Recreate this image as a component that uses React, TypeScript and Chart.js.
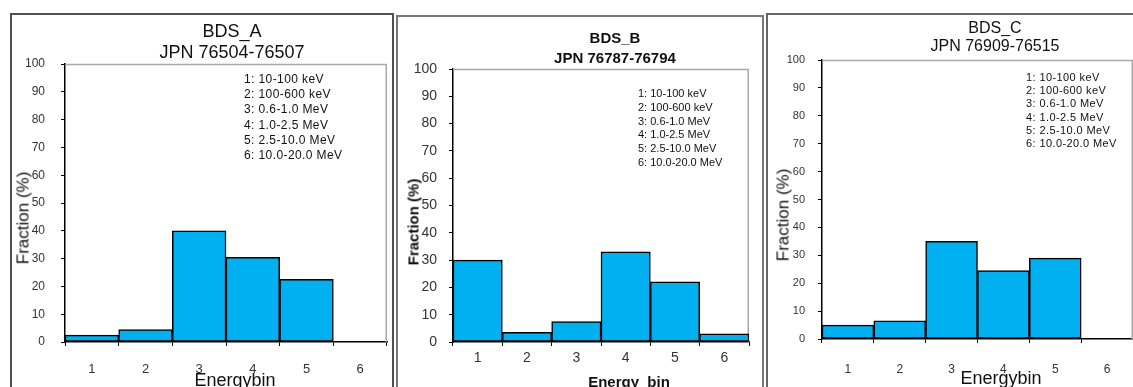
import React, { useEffect, useRef } from 'react';
import { Chart, registerables } from 'chart.js';

Chart.register(...registerables);

// ---- data ----
const energyBins = ['1', '2', '3', '4', '5', '6'];
const fractionA = [2.5, 4.5, 40, 30.5, 22.5, 0];
const fractionB = [30, 3.5, 7.5, 33, 22, 3];
const fractionC = [5, 6.5, 35, 24.5, 29, 0];
const energyRanges = [
  '1: 10-100 keV',
  '2: 100-600 keV',
  '3: 0.6-1.0 MeV',
  '4: 1.0-2.5 MeV',
  '5: 2.5-10.0 MeV',
  '6: 10.0-20.0 MeV',
];
const titlesA = ['BDS_A', 'JPN 76504-76507'];
const titlesB = ['BDS_B', 'JPN 76787-76794'];
const titlesC = ['BDS_C', 'JPN 76909-76515'];
const yAxisTitle = 'Fraction (%)';
const xAxisTitleAC = 'Energybin';
const xAxisTitleB = 'Energy  bin';

const FONT = 'Arial, "Liberation Sans", Helvetica, sans-serif';
const H = 387;

type PanelCfg = {
  values: number[];
  titles: string[];
  xTitle: string;
  left: number;
  width: number;
  plotLeft: number;
  plotRight: number;
  plotTop: number;
  plotBottom: number;
  bold: boolean;
  yTickSize: number;
  yTickPad: number;
  xTickSize: number;
  xTickPad: number;
  frame: { left: number; top: number; width: number; color: string };
  title: { x: number; y1: number; y2: number; size: number };
  notes: { x: number; y: number; step: number; size: number; spacing: number };
  yTitle: { x: number; y: number; size: number };
  xTitlePos: { x: number; y: number; size: number };
};

const plotFrame = {
  id: 'plotFrame',
  beforeDatasetsDraw(chart: any) {
    const { ctx, chartArea } = chart;
    const { left, top, right, bottom } = chartArea;
    ctx.save();
    ctx.strokeStyle = '#a8a8a8';
    ctx.lineWidth = 1.5;
    ctx.beginPath();
    ctx.moveTo(left, top + 0.5);
    ctx.lineTo(right - 0.75, top + 0.5);
    ctx.lineTo(right - 0.75, bottom);
    ctx.stroke();
    ctx.restore();
  },
};

function Panel({ cfg }: { cfg: PanelCfg }) {
  const ref = useRef<HTMLCanvasElement | null>(null);
  useEffect(() => {
    if (!ref.current) return;
    const chart = new Chart(ref.current, {
      type: 'bar',
      data: {
        labels: energyBins,
        datasets: [
          {
            data: cfg.values,
            backgroundColor: '#00B0F0',
            borderColor: '#000000',
            borderWidth: 1.5,
            borderSkipped: false,
            categoryPercentage: 1,
            barPercentage: 1,
          },
        ],
      },
      options: {
        animation: false,
        responsive: false,
        devicePixelRatio: 1,
        layout: {
          padding: {
            top: cfg.plotTop,
            right: cfg.left + cfg.width - cfg.plotRight,
            bottom: 0,
            left: 0,
          },
        },
        plugins: {
          legend: { display: false },
          title: { display: false },
          tooltip: { enabled: false },
        },
        scales: {
          x: {
            type: 'category',
            offset: true,
            grid: {
              offset: true,
              drawOnChartArea: false,
              drawTicks: true,
              tickLength: 4,
              color: '#000',
              lineWidth: 1,
            },
            border: { display: true, color: '#000', width: 1.5 },
            ticks: {
              autoSkip: false,
              maxRotation: 0,
              color: '#333',
              padding: cfg.xTickPad,
              font: { family: FONT, size: cfg.xTickSize, weight: 'normal' },
            },
            afterFit: (scale: any) => {
              scale.height = H - cfg.plotBottom;
            },
          },
          y: {
            min: 0,
            max: 100,
            ticks: {
              stepSize: 10,
              color: '#333',
              padding: cfg.yTickPad,
              font: { family: FONT, size: cfg.yTickSize, weight: 'normal' },
            },
            grid: {
              drawOnChartArea: false,
              drawTicks: true,
              tickLength: 4,
              color: '#000',
              lineWidth: 1,
            },
            border: { display: true, color: '#000', width: 1.5 },
            afterFit: (scale: any) => {
              scale.width = cfg.plotLeft - cfg.left;
            },
          },
        },
      },
      plugins: [plotFrame],
    } as any);
    return () => chart.destroy();
  }, [cfg]);

  const weight = cfg.bold ? 'bold' : 'normal';
  const abs: React.CSSProperties = { position: 'absolute', whiteSpace: 'nowrap', fontFamily: FONT, color: '#111' };
  return (
    <>
      <div
        style={{
          position: 'absolute',
          left: cfg.frame.left,
          top: cfg.frame.top,
          width: cfg.frame.width,
          height: H + 20,
          border: `2px solid ${cfg.frame.color}`,
          boxSizing: 'border-box',
        }}
      />
      <canvas
        ref={ref}
        width={cfg.width}
        height={H}
        style={{ position: 'absolute', left: cfg.left, top: 0, width: cfg.width, height: H, display: 'block' }}
      />
      {cfg.titles.map((t, i) => (
        <div
          key={t}
          style={{
            ...abs,
            left: cfg.title.x,
            top: i === 0 ? cfg.title.y1 : cfg.title.y2,
            transform: 'translate(-50%, -50%)',
            fontSize: cfg.title.size,
            fontWeight: weight,
            lineHeight: 1,
          }}
        >
          {t}
        </div>
      ))}
      {energyRanges.map((t, i) => (
        <div
          key={t}
          style={{
            ...abs,
            left: cfg.notes.x,
            top: cfg.notes.y + i * cfg.notes.step,
            transform: 'translateY(-50%)',
            fontSize: cfg.notes.size,
            letterSpacing: cfg.notes.spacing,
            lineHeight: 1,
          }}
        >
          {t}
        </div>
      ))}
      <div
        style={{
          ...abs,
          left: cfg.yTitle.x,
          top: cfg.yTitle.y,
          transform: 'translate(-50%, -50%) rotate(-90deg)',
          fontSize: cfg.yTitle.size,
          fontWeight: weight,
          lineHeight: 1,
        }}
      >
        {yAxisTitle}
      </div>
      <div
        style={{
          ...abs,
          left: cfg.xTitlePos.x,
          top: cfg.xTitlePos.y,
          transform: 'translate(-50%, -50%)',
          fontSize: cfg.xTitlePos.size,
          fontWeight: weight,
          lineHeight: 1,
          whiteSpace: 'pre',
        }}
      >
        {cfg.xTitle}
      </div>
    </>
  );
}

const panelA: PanelCfg = {
  values: fractionA,
  titles: titlesA,
  xTitle: xAxisTitleAC,
  left: 0,
  width: 392,
  plotLeft: 65,
  plotRight: 387,
  plotTop: 64,
  plotBottom: 342,
  bold: false,
  yTickSize: 12,
  yTickPad: 16,
  xTickSize: 13,
  xTickPad: 16,
  frame: { left: 10, top: 13, width: 384, color: '#505050' },
  title: { x: 232, y1: 31, y2: 52, size: 18 },
  notes: { x: 244, y: 79, step: 15.2, size: 12, spacing: 0.4 },
  yTitle: { x: 23, y: 218, size: 17 },
  xTitlePos: { x: 235, y: 380, size: 18 },
};

const panelB: PanelCfg = {
  values: fractionB,
  titles: titlesB,
  xTitle: xAxisTitleB,
  left: 394,
  width: 370,
  plotLeft: 453,
  plotRight: 749,
  plotTop: 69,
  plotBottom: 342,
  bold: true,
  yTickSize: 14,
  yTickPad: 12,
  xTickSize: 14,
  xTickPad: 4,
  frame: { left: 396, top: 15, width: 368, color: '#777' },
  title: { x: 615, y1: 37, y2: 57, size: 15 },
  notes: { x: 638, y: 93, step: 13.8, size: 11, spacing: 0 },
  yTitle: { x: 413, y: 222, size: 15 },
  xTitlePos: { x: 629, y: 381, size: 15 },
};

const panelC: PanelCfg = {
  values: fractionC,
  titles: titlesC,
  xTitle: xAxisTitleAC,
  left: 766,
  width: 367,
  plotLeft: 822,
  plotRight: 1133,
  plotTop: 60,
  plotBottom: 339,
  bold: false,
  yTickSize: 11,
  yTickPad: 13,
  xTickSize: 12,
  xTickPad: 19,
  frame: { left: 766, top: 13, width: 380, color: '#666' },
  title: { x: 995, y1: 28, y2: 46, size: 16 },
  notes: { x: 1026, y: 77, step: 13.2, size: 11, spacing: 0.4 },
  yTitle: { x: 783, y: 215, size: 17 },
  xTitlePos: { x: 1001, y: 378, size: 18 },
};

export default function App() {
  return (
    <div
      style={{
        position: 'absolute',
        left: 0,
        top: 0,
        width: 1133,
        height: H,
        overflow: 'hidden',
        background: '#fff',
      }}
    >
      <Panel cfg={panelA} />
      <Panel cfg={panelB} />
      <Panel cfg={panelC} />
    </div>
  );
}
